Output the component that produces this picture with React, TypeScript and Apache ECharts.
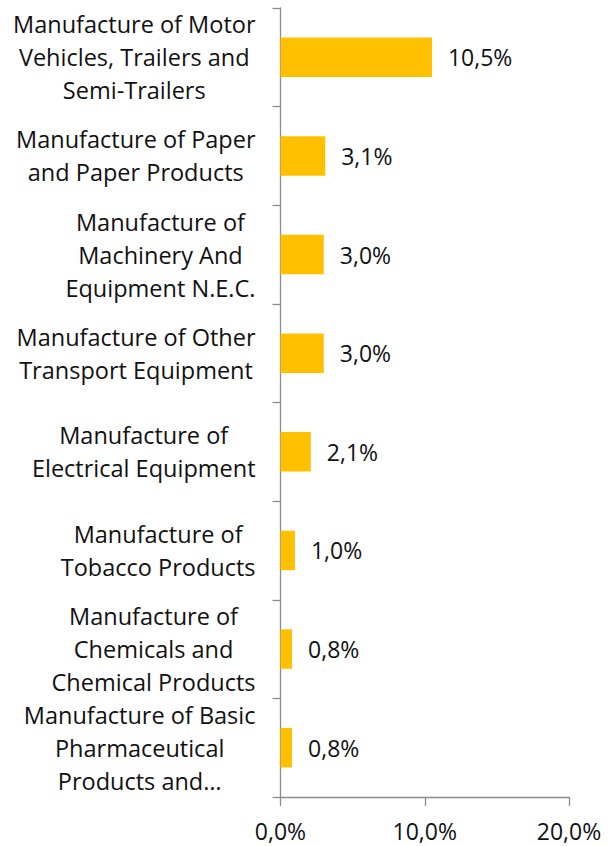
import React, { useEffect, useRef } from "react";
import * as echarts from "echarts";

const categories: string[][] = [
  ["Manufacture of Motor", "Vehicles, Trailers and", "Semi-Trailers"],
  ["Manufacture of Paper", "and Paper Products"],
  ["Manufacture of", "Machinery And", "Equipment N.E.C."],
  ["Manufacture of Other", "Transport Equipment"],
  ["Manufacture of", "Electrical Equipment"],
  ["Manufacture of", "Tobacco Products"],
  ["Manufacture of", "Chemicals and", "Chemical Products"],
  ["Manufacture of Basic", "Pharmaceutical", "Products and…"],
];
const values: number[] = [10.5, 3.1, 3.0, 3.0, 2.1, 1.0, 0.8, 0.8];
const xMin = 0;
const xMax = 20;
const xInterval = 10;

const FONT = "Open Sans";
const fmt = (v: number) => v.toFixed(1).replace(".", ",") + "%";

export default function App() {
  const ref = useRef<HTMLDivElement>(null);
  useEffect(() => {
    if (!ref.current) return;
    const chart = echarts.init(ref.current, undefined, { renderer: "svg" });
    chart.setOption({
      animation: false,
      textStyle: { fontFamily: FONT },
      grid: { left: 280.5, right: 39, top: 8, bottom: 49, containLabel: false },
      xAxis: {
        type: "value",
        min: xMin,
        max: xMax,
        interval: xInterval,
        splitLine: { show: false },
        axisLine: { show: true, lineStyle: { color: "#8c8c8c", width: 1.3 } },
        axisTick: { show: true, length: 9, lineStyle: { color: "#8c8c8c", width: 1.3 } },
        axisLabel: {
          formatter: (v: number) => fmt(v),
          fontSize: 23,
          lineHeight: 24,
          color: "#111",
          fontFamily: FONT,
          margin: 22,
        },
      },
      yAxis: {
        type: "category",
        inverse: true,
        data: categories.map((c) => c.join("\n")),
        axisLine: { show: true, lineStyle: { color: "#8c8c8c", width: 1.3 } },
        axisTick: { show: true, length: 8, lineStyle: { color: "#8c8c8c", width: 1.3 } },
        axisLabel: {
          align: "right",
          margin: 25,
          formatter: (v: string) =>
            v
              .split("\n")
              .map((l) => `{c|${l}}`)
              .join("\n"),
          rich: {
            c: {
              align: "center",
              fontSize: 23.5,
              lineHeight: 33,
              color: "#111",
              fontFamily: FONT,
            },
          },
        },
      },
      series: [
        {
          type: "bar",
          data: values,
          barCategoryGap: "60%",
          itemStyle: { color: "#FFC000" },
          label: {
            show: true,
            position: "right",
            distance: 16,
            formatter: (p: any) => fmt(p.value),
            fontSize: 23,
            color: "#111",
            fontFamily: FONT,
          },
        },
      ],
    });
    return () => chart.dispose();
  }, []);
  return (
    <div
      ref={ref}
      style={{ position: "absolute", left: 0, top: 0, width: 608, height: 846 }}
    />
  );
}
